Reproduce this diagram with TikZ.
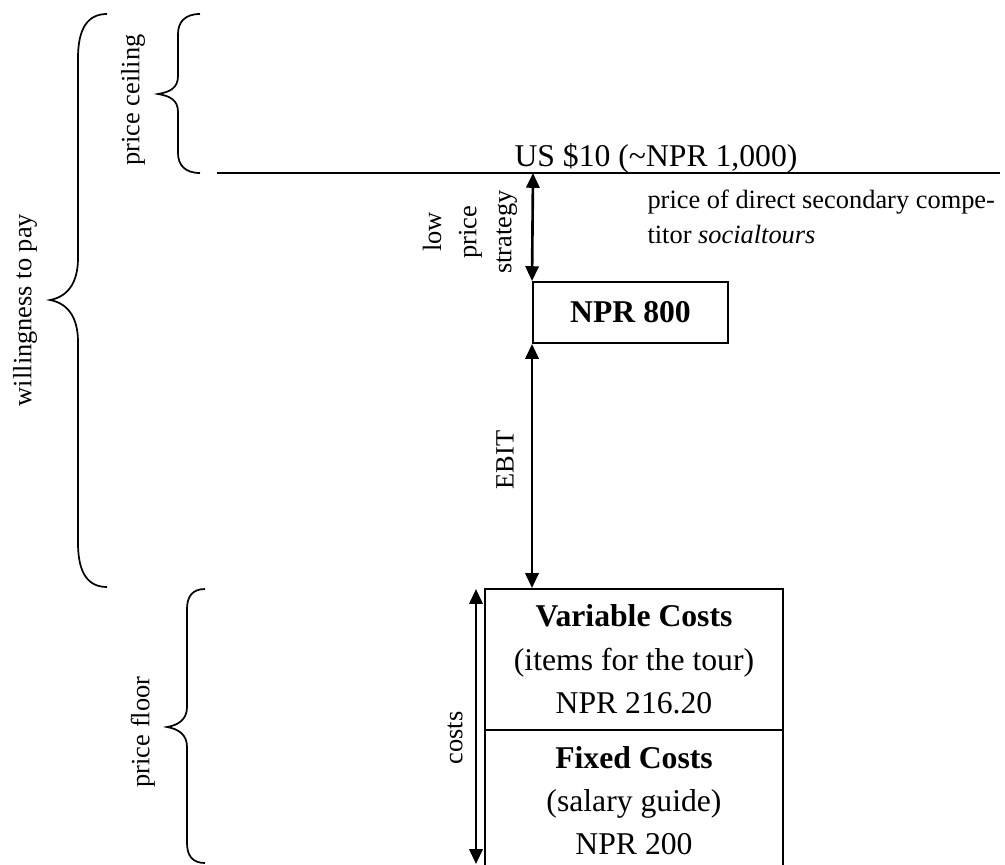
\documentclass[tikz,border=0pt]{standalone}
\usepackage{fontspec}
\setmainfont{Liberation Serif}
\usetikzlibrary{arrows.meta}
\tikzset{
  sm/.style={font=\fontsize{10}{13.3}\selectfont, inner sep=0pt},
  lg/.style={font=\fontsize{12}{16.4}\selectfont, inner sep=0pt},
  cell/.style={draw, line width=0.75pt, lg, align=center, inner sep=0pt},
  dbl/.style={{Triangle[width=5pt,length=5.6pt]}-{Triangle[width=5pt,length=5.6pt]}, line width=1pt},
  bracepath/.style={line width=0.65pt},
  rule/.style={line width=0.75pt}
}
\begin{document}
\begin{tikzpicture}[x=0.3788pt,y=-0.3788pt]
\useasboundingbox (0,0) rectangle (1005,864);
\clip (0,0) rectangle (1005,864);

% braces
\draw[bracepath] (107,14) .. controls (88,14) and (78,28) .. (78,58) -- (78,258)
  .. controls (78,285) and (66,297) .. (50,300)
  .. controls (66,303) and (78,315) .. (78,342) -- (78,543)
  .. controls (78,573) and (88,587) .. (107,587);
\draw[bracepath] (200,14) .. controls (185,14) and (178,22) .. (178,34) -- (178,76)
  .. controls (178,88) and (170,92) .. (158,94)
  .. controls (170,96) and (178,100) .. (178,112) -- (178,153)
  .. controls (178,165) and (185,173) .. (200,173);
\draw[bracepath] (205,589) .. controls (192,589) and (187,597) .. (187,609) -- (187,707)
  .. controls (187,719) and (179,725) .. (167,727)
  .. controls (179,729) and (187,735) .. (187,747) -- (187,843)
  .. controls (187,855) and (192,863) .. (205,863);

\node[sm, rotate=90] (wtp) at (25,310) {willingness to pay};
\node[sm, rotate=90] (ceil) at (133,100) {price ceiling};
\node[sm, rotate=90] (floor) at (143,732) {price floor};

% price line
\coordinate (L1) at (217,173);
\coordinate (L2) at (1000,173);
\draw[rule] (L1) -- (L2);
\node[lg, anchor=base] (usd) at (656,166) {US \$10 (\textasciitilde NPR 1,000)};
\node[sm, anchor=north west, align=left] (comp) at (647,189)
  {price of direct secondary compe-\\titor \textit{socialtours}};

% NPR 800 box
\node[cell, minimum width=195*0.3788pt, minimum height=61*0.3788pt] (p800) at (630.5,312.5) {\textbf{NPR 800}};
\coordinate (a1) at (533,173);
\draw[dbl] (a1) -- (p800.north west);
\node[sm, rotate=90, align=center] (lps) at (470,232) {low\\price\\strategy};

% cost cells
\node[cell, minimum width=298*0.3788pt, minimum height=141*0.3788pt] (vc) at (634,659.5)
  {\textbf{Variable Costs}\\(items for the tour)\\NPR 216.20};
\node[cell, minimum width=298*0.3788pt, minimum height=141*0.3788pt] (fc) at (634,800.5)
  {\textbf{Fixed Costs}\\(salary guide)\\NPR 200};

\draw[dbl] (p800.south west) -- (p800.south west |- vc.north);
\node[sm, rotate=90] (ebit) at (505,460) {EBIT};

\coordinate (ctop) at (476,589);
\coordinate (cbot) at (476,864);
\draw[dbl] (ctop) -- (cbot);
\node[sm, rotate=90] (costs) at (455,738) {costs};
\end{tikzpicture}
\end{document}
